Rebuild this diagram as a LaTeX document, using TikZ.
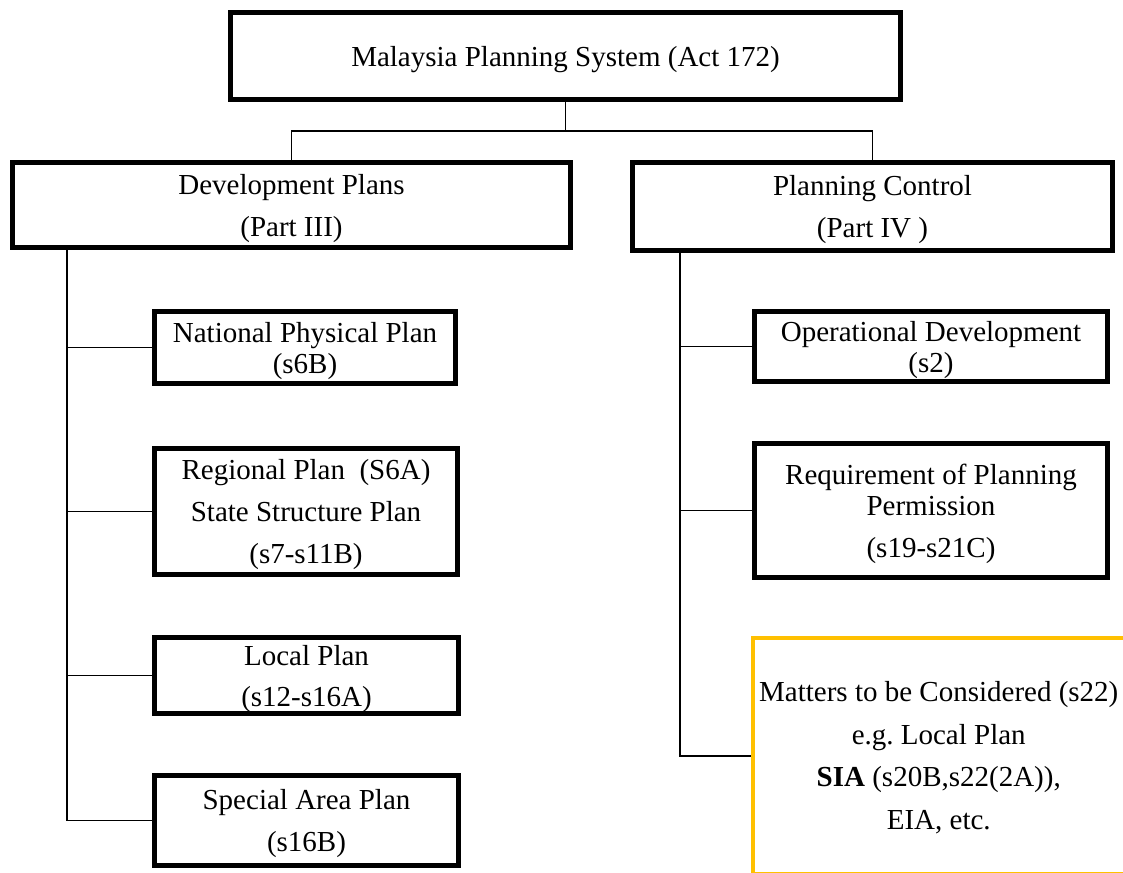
\documentclass[tikz,border=0pt]{standalone}
\usepackage{fontspec}
\setmainfont{Liberation Serif}
\frenchspacing
\begin{document}
\begin{tikzpicture}[x=1pt,y=-1pt,
  every node/.style={font=\fontsize{29}{31}\selectfont, align=center, inner sep=0pt},
  box/.style={draw=black, line width=5pt, rectangle, text depth=-2pt},
  hibox/.style={draw=goldline, line width=4pt, rectangle, text depth=0pt},
  link/.style={draw=black, line width=1.6pt}]
\definecolor{goldline}{HTML}{FFC000}
\useasboundingbox (0,0) rectangle (1123,872);
\fill[white] (0,0) rectangle (1123,872);

% root and the two parts of the Act
\node[box, minimum width=670pt, minimum height=87pt] (act) at (565.5,56) {Malaysia Planning System (Act 172)};
\node[box, minimum width=558pt, minimum height=85pt] (dev) at (291.5,205) {Development Plans\\[11pt](Part III)};
\node[box, minimum width=480pt, minimum height=88pt] (ctl) at (872.5,206.5) {Planning Control\\[11pt](Part IV )};

% development plans
\node[box, minimum width=301pt, minimum height=72pt] (npp) at (305,347.5) {National Physical Plan\\(s6B)};
\node[box, minimum width=303pt, minimum height=126pt] (reg) at (306,511.5) {Regional Plan\enspace(S6A)\\[11pt]State Structure Plan\\[11pt](s7-s11B)};
\node[box, minimum width=304pt, minimum height=76pt] (loc) at (306.5,675.5) {Local Plan\\[10pt](s12-s16A)};
\node[box, minimum width=304pt, minimum height=90pt] (spa) at (306.5,820.5) {Special Area Plan\\[11pt](s16B)};

% planning control
\node[box, minimum width=353pt, minimum height=70pt] (opd) at (931,346.5) {Operational Development\\(s2)};
\node[box, minimum width=353pt, minimum height=134pt] (req) at (931,510.5) {Requirement of Planning\\Permission\\[11pt](s19-s21C)};
\node[hibox, minimum width=371.5pt, minimum height=235.5pt] (mat) at (938.75,755.75) {Matters to be Considered (s22)\\[12pt]e.g. Local Plan\\[11pt]\textbf{SIA} (s20B,s22(2A)),\\[12pt]EIA, etc.};

% tree connectors
\draw[link] (act.south) -- ++(0,29) coordinate (fork) -| (dev.north);
\draw[link] (fork) -| (ctl.north);

\coordinate (ls) at (67,250);
\draw[link] (ls) |- (spa.west);
\draw[link] (ls |- npp.west) -- (npp.west);
\draw[link] (ls |- reg.west) -- (reg.west);
\draw[link] (ls |- loc.west) -- (loc.west);

\coordinate (rs) at (680,253);
\draw[link] (rs) |- (mat.west);
\draw[link] (rs |- opd.west) -- (opd.west);
\draw[link] (rs |- req.west) -- (req.west);
\end{tikzpicture}
\end{document}
